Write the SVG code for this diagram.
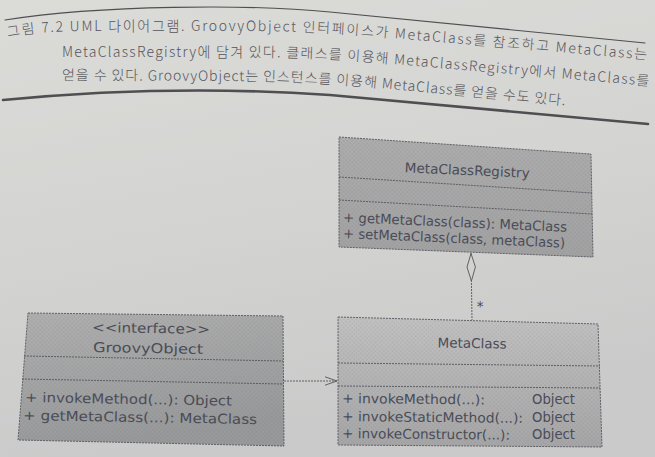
<svg xmlns="http://www.w3.org/2000/svg" width="655" height="457" viewBox="0 0 655 457">
  <style>
    .cap { font-family: "Noto Sans CJK KR", "Noto Sans", sans-serif; font-size: 14px; font-weight: 300; fill: #55555a; }
    .rule { fill: none; stroke: #4f4f52; stroke-linecap: round; }
    .box { stroke: #55565c; stroke-width: 0.9; stroke-dasharray: 2 1; }
    .div { stroke: #55565c; stroke-width: 0.9; stroke-dasharray: 2 1; fill: none; }
    .uml { font-family: "DejaVu Sans", Verdana, sans-serif; fill: #4a4c57; font-size: 13.5px; }
    .t { text-anchor: middle; }
    .edge { fill: none; stroke: #55565c; stroke-width: 0.9; stroke-dasharray: 2 1; }
  </style>
  <defs>
    <linearGradient id="page" x1="0" y1="0" x2="0.25" y2="1">
      <stop offset="0" stop-color="#dbdbd8"/>
      <stop offset="0.5" stop-color="#d4d4d2"/>
      <stop offset="1" stop-color="#cacaca"/>
    </linearGradient>
    <linearGradient id="fillReg" x1="0" y1="0" x2="0" y2="1">
      <stop offset="0" stop-color="#adadad"/>
      <stop offset="1" stop-color="#a2a2a3"/>
    </linearGradient>
    <linearGradient id="fillGO" x1="0" y1="0" x2="0.3" y2="1">
      <stop offset="0" stop-color="#b0b0b0"/>
      <stop offset="1" stop-color="#98999a"/>
    </linearGradient>
    <linearGradient id="fillMC" x1="0" y1="0" x2="0" y2="1">
      <stop offset="0" stop-color="#c2c2c2"/>
      <stop offset="1" stop-color="#a6a6a7"/>
    </linearGradient>
    <!-- fine print screen laid over the shaded class boxes -->
    <pattern id="screen" width="3" height="3" patternUnits="userSpaceOnUse" patternTransform="rotate(45)">
      <rect width="1.5" height="1.5" fill="#6e6e72" fill-opacity="0.2"/>
    </pattern>
    <marker id="openArrow" viewBox="0 0 14 10" refX="13" refY="5" markerWidth="14" markerHeight="10" markerUnits="userSpaceOnUse" orient="auto">
      <path d="M1,0.8 L13,5 L1,9.2" fill="none" stroke="#55565c" stroke-width="0.9"/>
    </marker>
    <marker id="hollowDiamond" viewBox="0 0 30 10" refX="0" refY="5" markerWidth="30" markerHeight="10" markerUnits="userSpaceOnUse" orient="auto">
      <path d="M0.5,5 L14,0.8 L28,5 L14,9.2 Z" fill="#d2d2d0" stroke="#55565c" stroke-width="0.9"/>
    </marker>
    <!-- baselines of the three caption lines, following the curved page -->
    <path id="l1" d="M 8 37 Q 40 31 90 31 L 250 31 Q 310 31 370 36 L 652 60"/>
    <path id="l2" d="M 62 57 L 250 57 Q 310 57 370 62 L 652 86"/>
    <path id="l3" d="M 62 80 L 250 81 Q 310 82 370 87 L 572 106"/>
  </defs>

  <!-- page -->
  <rect width="655" height="457" fill="url(#page)"/>

  <!-- figure caption between the two rules -->
  <g id="caption">
    <path class="rule" stroke-width="1.2" d="M 5 20 C 100 5, 250 4, 330 12 L 645 43"/>
    <text class="cap"><textPath href="#l1" textLength="640" lengthAdjust="spacing">그림 7.2  UML 다이어그램. GroovyObject 인터페이스가 MetaClass를 참조하고 MetaClass는</textPath></text>
    <text class="cap"><textPath href="#l2" textLength="588" lengthAdjust="spacing">MetaClassRegistry에 담겨 있다. 클래스를 이용해 MetaClassRegistry에서 MetaClass를</textPath></text>
    <text class="cap"><textPath href="#l3" textLength="504" lengthAdjust="spacing">얻을 수 있다. GroovyObject는 인스턴스를 이용해 MetaClass를 얻을 수도 있다.</textPath></text>
    <path class="rule" stroke-width="2.6" d="M 3 100 Q 170 84 330 95 L 648 124"/>
  </g>

  <!-- connectors -->
  <g id="connectors">
    <path class="edge" d="M 284 381 L 337 381" marker-end="url(#openArrow)"/>
    <path class="edge" d="M 471 253 L 472 320" marker-start="url(#hollowDiamond)"/>
    <text class="uml" x="480" y="311" font-size="13" text-anchor="middle">*</text>
  </g>

  <!-- MetaClassRegistry -->
  <g id="MetaClassRegistry">
    <polygon class="box" points="339,137 591,154 593,257 339,247" fill="url(#fillReg)"/>
    <polygon points="339,137 591,154 593,257 339,247" fill="url(#screen)"/>
    <line class="div" x1="339" y1="177" x2="592" y2="193"/>
    <line class="div" x1="339" y1="200" x2="592" y2="214"/>
    <text class="uml t" x="467" y="175" transform="rotate(2.5 467 175)" textLength="125" lengthAdjust="spacingAndGlyphs">MetaClassRegistry</text>
    <text class="uml" x="343" y="222" font-size="12.5" transform="rotate(2.5 343 222)" textLength="224" lengthAdjust="spacingAndGlyphs">+ getMetaClass(class): MetaClass</text>
    <text class="uml" x="343" y="238" font-size="12.5" transform="rotate(2.5 343 238)" textLength="222" lengthAdjust="spacingAndGlyphs">+ setMetaClass(class, metaClass)</text>
  </g>

  <!-- GroovyObject -->
  <g id="GroovyObject">
    <polygon class="box" points="28,313 283,316 284,446 18,440" fill="url(#fillGO)"/>
    <polygon points="28,313 283,316 284,446 18,440" fill="url(#screen)"/>
    <line class="div" x1="24" y1="356" x2="283" y2="361"/>
    <line class="div" x1="22" y1="379" x2="283" y2="384"/>
    <text class="uml t" x="151" y="333" font-size="14.5" transform="rotate(1 151 333)" textLength="118" lengthAdjust="spacingAndGlyphs">&lt;&lt;interface&gt;&gt;</text>
    <text class="uml t" x="148" y="353" font-size="14.5" transform="rotate(1 148 353)" textLength="110" lengthAdjust="spacingAndGlyphs">GroovyObject</text>
    <text class="uml" x="25" y="402" transform="rotate(1 25 402)" textLength="207" lengthAdjust="spacingAndGlyphs">+ invokeMethod(...): Object</text>
    <text class="uml" x="23" y="420" transform="rotate(1 23 420)" textLength="234" lengthAdjust="spacingAndGlyphs">+ getMetaClass(...): MetaClass</text>
  </g>

  <!-- MetaClass -->
  <g id="MetaClass">
    <polygon class="box" points="338,317 598,324 602,447 338,445" fill="url(#fillMC)"/>
    <polygon points="338,317 598,324 602,447 338,445" fill="url(#screen)"/>
    <line class="div" x1="338" y1="363" x2="600" y2="366"/>
    <line class="div" x1="338" y1="386" x2="600" y2="388"/>
    <text class="uml t" x="472" y="348" transform="rotate(1 472 348)" textLength="69" lengthAdjust="spacingAndGlyphs">MetaClass</text>
    <text class="uml" x="342" y="403" transform="rotate(0.6 342 403)" textLength="143" lengthAdjust="spacingAndGlyphs">+ invokeMethod(...):</text>
    <text class="uml" x="532" y="404" textLength="43" lengthAdjust="spacingAndGlyphs">Object</text>
    <text class="uml" x="342" y="421" transform="rotate(0.6 342 421)" textLength="181" lengthAdjust="spacingAndGlyphs">+ invokeStaticMethod(...):</text>
    <text class="uml" x="532" y="422" textLength="43" lengthAdjust="spacingAndGlyphs">Object</text>
    <text class="uml" x="342" y="438" transform="rotate(0.6 342 438)" textLength="168" lengthAdjust="spacingAndGlyphs">+ invokeConstructor(...):</text>
    <text class="uml" x="532" y="439" textLength="43" lengthAdjust="spacingAndGlyphs">Object</text>
  </g>
</svg>
